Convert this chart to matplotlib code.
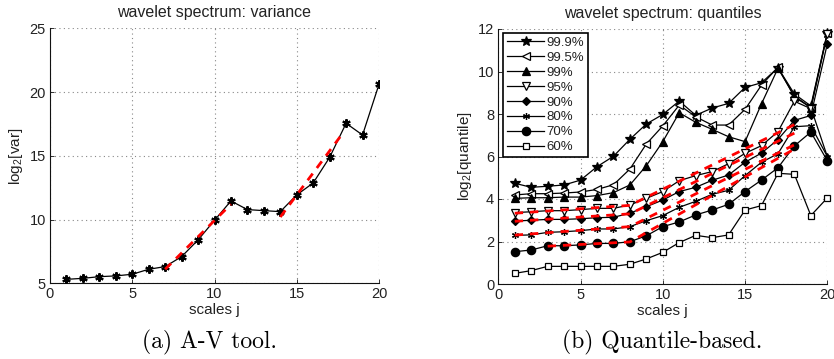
import matplotlib
matplotlib.use("Agg")
import matplotlib.pyplot as plt
import numpy as np

plt.rcParams['font.family'] = ['Liberation Sans', 'DejaVu Sans']
plt.rcParams['mathtext.fontset'] = 'custom'
plt.rcParams['mathtext.rm'] = 'Liberation Sans'

scales = list(range(1, 21))

variance = [5.31, 5.39, 5.52, 5.58, 5.71, 6.10, 6.31, 7.09, 8.40, 9.94,
            11.46, 10.78, 10.70, 10.62, 11.93, 12.87, 14.88, 17.55, 16.63, 20.61]
var_fit1_x = [7, 11]
var_fit1_y = [6.1, 11.2]
var_fit2_x = [14, 17.7]
var_fit2_y = [10.2, 16.6]

q999 = [4.74, 4.55, 4.60, 4.66, 4.89, 5.52, 6.01, 6.81, 7.53, 7.98,
        8.61, 7.94, 8.28, 8.50, 9.25, 9.47, 10.18, 8.94, 8.38, 11.83]
q995 = [4.19, 4.25, 4.25, 4.28, 4.33, 4.45, 4.67, 5.41, 6.59, 7.44,
        8.42, 7.87, 7.48, 7.48, 8.22, 9.36, 10.20, 8.80, 8.30, 11.80]
q99 = [4.03, 4.06, 4.06, 4.09, 4.09, 4.16, 4.30, 4.66, 5.57, 6.70,
       8.06, 7.61, 7.28, 6.93, 6.70, 8.48, 10.15, 8.85, 8.30, 6.00]
q95 = [3.36, 3.40, 3.45, 3.45, 3.50, 3.56, 3.56, 3.72, 4.03, 4.35,
       4.86, 5.10, 5.29, 5.66, 6.15, 6.51, 7.17, 8.60, 8.25, 11.78]
q90 = [2.96, 3.00, 3.04, 3.04, 3.07, 3.12, 3.14, 3.33, 3.64, 3.95,
       4.35, 4.55, 4.88, 5.13, 5.73, 6.16, 6.80, 7.70, 7.93, 11.30]
q80 = [2.29, 2.31, 2.43, 2.46, 2.51, 2.59, 2.59, 2.70, 2.98, 3.22,
       3.61, 3.89, 4.22, 4.41, 5.10, 5.73, 6.13, 7.40, 7.45, 6.00]
q70 = [1.52, 1.60, 1.80, 1.80, 1.84, 1.91, 1.91, 1.99, 2.27, 2.70,
       2.92, 3.25, 3.48, 3.75, 4.35, 4.89, 5.47, 6.50, 7.15, 5.80]
q60 = [0.50, 0.63, 0.83, 0.83, 0.83, 0.83, 0.83, 0.93, 1.18, 1.49,
       1.95, 2.29, 2.18, 2.31, 3.48, 3.69, 5.21, 5.16, 3.22, 4.05]

quant_labels = ['99.9%', '99.5%', '99%', '95%', '90%', '80%', '70%', '60%']

# fitted lines (x knots, y knots) for 95, 90, 80, 70 %
fit95_x = [1, 8, 18]; fit95_y = [3.33, 3.70, 7.50]
fit90_x = [1, 8, 18]; fit90_y = [2.95, 3.30, 7.10]
fit80_x = [1, 8, 18]; fit80_y = [2.30, 2.70, 6.55]
fit70_x = [3, 8, 18]; fit70_y = [1.78, 1.98, 6.35]

W, H = 834, 359
fig = plt.figure(figsize=(W / 100, H / 100), dpi=100)

def ax_rect(x0, x1, y0, y1):
    return [x0 / W, 1 - y1 / H, (x1 - x0) / W, (y1 - y0) / H]

tc = '#222222'

def style(ax):
    for s in ['top', 'right']:
        ax.spines[s].set_visible(False)
    for s in ['left', 'bottom']:
        ax.spines[s].set_linewidth(0.8)
        ax.spines[s].set_color('#111111')
    ax.tick_params(direction='in', length=3, width=0.6, labelsize=10.5,
                   colors='#111111', labelcolor=tc, pad=3)
    ax.grid(True, linestyle=(0, (1, 3)), color='#888888', linewidth=0.8)
    ax.set_axisbelow(True)

# left
ax1 = fig.add_axes(ax_rect(50, 379, 28.3, 283.3))
style(ax1)
ax1.plot(scales, variance, color='k', lw=0.9, marker=(6, 2, 0), ms=6,
         mew=1.5, zorder=3)
ax1.plot(var_fit1_x, var_fit1_y, color='red', lw=2, ls=(0, (3, 2.5)), zorder=4)
ax1.plot(var_fit2_x, var_fit2_y, color='red', lw=2, ls=(0, (3, 2.5)), zorder=4)
ax1.set_xlim(0, 20)
ax1.set_ylim(5, 25)
ax1.set_xticks([0, 5, 10, 15, 20])
ax1.set_yticks([5, 10, 15, 20, 25])
ax1.set_title('wavelet spectrum: variance', fontsize=11.5, color=tc, pad=8)
ax1.set_xlabel('scales j', fontsize=11, color=tc, labelpad=1)
ax1.set_ylabel(r'log$_2$[var]', fontsize=11, color=tc, labelpad=3)

# right
ax2 = fig.add_axes(ax_rect(498.3, 827.3, 29, 284))
style(ax2)
series = [q999, q995, q99, q95, q90, q80, q70, q60]
markers = [('*', 'k', 7), ('<', 'white', 6), ('^', 'k', 6), ('v', 'white', 6),
           ('D', 'k', 4.5), ((6, 2, 0), 'k', 5), ('o', 'k', 6), ('s', 'white', 5)]
for vals, lab, (m, fc, ms) in zip(series, quant_labels, markers):
    ax2.plot(scales, vals, color='k', lw=0.9, marker=m, ms=ms, mfc=fc,
             mec='k', mew=0.9, label=lab, zorder=3, clip_on=False)
for fx, fy in [(fit95_x, fit95_y), (fit90_x, fit90_y), (fit80_x, fit80_y), (fit70_x, fit70_y)]:
    ax2.plot(fx, fy, color='red', lw=2, ls=(0, (3, 2.5)), zorder=4)
ax2.set_xlim(0, 20)
ax2.set_ylim(0, 12)
ax2.set_xticks([0, 5, 10, 15, 20])
ax2.set_yticks([0, 2, 4, 6, 8, 10, 12])
ax2.set_title('wavelet spectrum: quantiles', fontsize=11.5, color=tc, pad=8)
ax2.set_xlabel('scales j', fontsize=11, color=tc, labelpad=1)
ax2.set_ylabel(r'log$_2$[quantile]', fontsize=11, color=tc, labelpad=3)
leg = ax2.legend(loc='upper left', bbox_to_anchor=(0.015, 0.985), fontsize=9.5,
                 frameon=True, fancybox=False, edgecolor='k', framealpha=1,
                 handlelength=2.8, handletextpad=0.2, labelspacing=0.2,
                 borderpad=0.3, borderaxespad=0)
leg.get_frame().set_linewidth(1.2)
for t in leg.get_texts():
    t.set_color(tc)

fig.text(210 / W, 1 - 342 / H, '(a) A-V tool.', ha='center', va='center',
         fontsize=17, family='cmr10')
fig.text(662 / W, 1 - 342 / H, '(b) Quantile-based.', ha='center', va='center',
         fontsize=17, family='cmr10')

fig.savefig('out.png', dpi=100)
